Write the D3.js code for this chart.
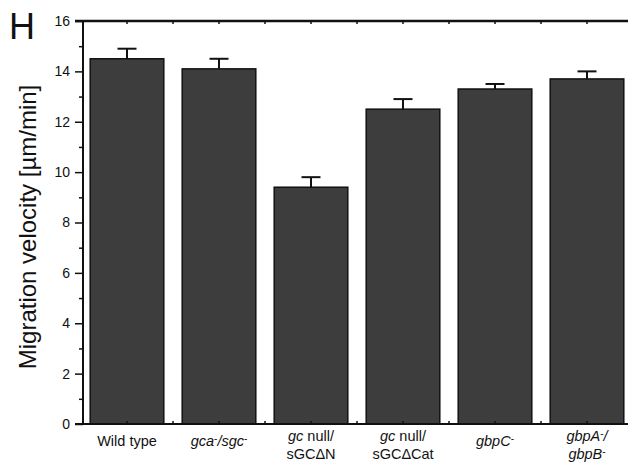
<!DOCTYPE html>
<html>
<head>
<meta charset="utf-8">
<title>Migration velocity</title>
<script src="https://cdn.jsdelivr.net/npm/d3@7"></script>
<style>
  body { margin: 0; background: #fff; }
  svg { display: block; font-family: Arial, "Liberation Sans", sans-serif; }
</style>
</head>
<body>
<div id="chart"></div>
<script>
// data
var categories = ["wt", "gca_sgc", "dN", "dCat", "gbpC", "gbpAB"];
var velocity   = [14.5, 14.1, 9.4, 12.5, 13.3, 13.7];
var errUp      = [0.4, 0.4, 0.4, 0.4, 0.2, 0.3];
var yTicks     = [0, 2, 4, 6, 8, 10, 12, 14, 16];
var yMinor     = [1, 3, 5, 7, 9, 11, 13, 15];
// label lines, each a list of [text, kind]  (i = italic, s = superscript)
var labels = [
  [[["Wild type", ""]]],
  [[["gca", "i"], ["-", "s"], ["/sgc", "i"], ["-", "s"]]],
  [[["gc", "i"], [" null/", ""]], [["sGC\u0394N", ""]]],
  [[["gc", "i"], [" null/", ""]], [["sGC\u0394Cat", ""]]],
  [[["gbpC", "i"], ["-", "s"]]],
  [[["gbpA", "i"], ["-", "s"], ["/", "i"]], [["gbpB", "i"], ["-", "s"]]]
];

var W = 628, H = 464;
// plot frame (window.top is read-only, so no "top" here)
var pLeft = 83, pTop = 21, pBottom = 424, pRight = 633;

var svg = d3.select("#chart").append("svg")
    .attr("width", W).attr("height", H);

var x = d3.scaleBand()
    .domain(categories)
    .range([81, pRight])
    .paddingInner(0.2)
    .paddingOuter(0.1);

var y = d3.scaleLinear().domain([0, 16]).range([pBottom, pTop]);

// bars
svg.selectAll("rect.bar")
    .data(categories)
    .enter().append("rect")
    .attr("class", "bar")
    .attr("x", function(d) { return x(d); })
    .attr("y", function(d, i) { return y(velocity[i]); })
    .attr("width", x.bandwidth())
    .attr("height", function(d, i) { return y(0) - y(velocity[i]); })
    .attr("fill", "#3d3d3d")
    .attr("stroke", "#111")
    .attr("stroke-width", 1.5);

// error bars (upper only)
var eb = svg.selectAll("g.err")
    .data(categories)
    .enter().append("g")
    .attr("class", "err")
    .attr("stroke", "#111")
    .attr("stroke-width", 2);
eb.append("line")
    .attr("x1", function(d) { return x(d) + x.bandwidth() / 2; })
    .attr("x2", function(d) { return x(d) + x.bandwidth() / 2; })
    .attr("y1", function(d, i) { return y(velocity[i]); })
    .attr("y2", function(d, i) { return y(velocity[i] + errUp[i]); });
eb.append("line")
    .attr("x1", function(d) { return x(d) + x.bandwidth() / 2 - 9.5; })
    .attr("x2", function(d) { return x(d) + x.bandwidth() / 2 + 9.5; })
    .attr("y1", function(d, i) { return y(velocity[i] + errUp[i]); })
    .attr("y2", function(d, i) { return y(velocity[i] + errUp[i]); });

// y axis
var yAxis = svg.append("g")
    .attr("transform", "translate(" + pLeft + ",0)")
    .call(d3.axisLeft(y).tickValues(yTicks).tickSize(8).tickPadding(5));
svg.append("g")
    .attr("transform", "translate(" + pLeft + ",0)")
    .call(d3.axisLeft(y).tickValues(yMinor).tickSize(4).tickFormat(""))
    .select(".domain").remove();
svg.selectAll(".tick line").attr("stroke", "#111").attr("stroke-width", 1.5);
yAxis.select(".domain").remove();
yAxis.selectAll("text")
    .attr("font-size", 14)
    .attr("font-family", "Arial, 'Liberation Sans', sans-serif")
    .attr("fill", "#111");

// frame
svg.append("line").attr("x1", pLeft).attr("x2", pLeft).attr("y1", pTop).attr("y2", pBottom)
    .attr("stroke", "#111").attr("stroke-width", 2);
svg.append("line").attr("x1", 75).attr("x2", pRight).attr("y1", pBottom).attr("y2", pBottom)
    .attr("stroke", "#111").attr("stroke-width", 2);
svg.append("line").attr("x1", 75).attr("x2", pRight).attr("y1", pTop).attr("y2", pTop)
    .attr("stroke", "#111").attr("stroke-width", 2.5);

// small inner ticks on top and bottom at band centres and boundaries
var gap = (x.step() - x.bandwidth()) / 2;
var xt = [];
categories.forEach(function(c) {
  xt.push(x(c) - gap);
  xt.push(x(c) + x.bandwidth() / 2);
});
xt.shift();
svg.selectAll("line.tt").data(xt).enter().append("line")
    .attr("class", "tt")
    .attr("x1", function(d) { return d; }).attr("x2", function(d) { return d; })
    .attr("y1", pTop).attr("y2", pTop + 3)
    .attr("stroke", "#111").attr("stroke-width", 1.5);
svg.selectAll("line.bt").data(xt).enter().append("line")
    .attr("class", "bt")
    .attr("x1", function(d) { return d; }).attr("x2", function(d) { return d; })
    .attr("y1", pBottom).attr("y2", pBottom - 3)
    .attr("stroke", "#111").attr("stroke-width", 1.5);

// category labels
categories.forEach(function(c, i) {
  var lines = labels[i];
  var cx = x(c) + x.bandwidth() / 2;
  var t = svg.append("text")
      .attr("x", cx)
      .attr("y", lines.length == 1 ? 446 : 441)
      .attr("text-anchor", "middle")
      .attr("font-size", 14.5)
      .attr("fill", "#111");
  lines.forEach(function(line, li) {
    var row = t.append("tspan").attr("x", cx).attr("dy", li == 0 ? 0 : 17.5);
    line.forEach(function(seg) {
      var s = row.append("tspan").text(seg[0]);
      if (seg[1] == "i") s.attr("font-style", "italic");
      if (seg[1] == "s") s.attr("font-size", 10).attr("baseline-shift", "40%");
    });
  });
});

// y axis title
svg.append("text")
    .attr("transform", "translate(36," + 227 + ") rotate(-90)")
    .attr("text-anchor", "middle")
    .attr("font-size", 24)
    .attr("fill", "#111")
    .text("Migration velocity [\u00b5m/min]");

// panel letter
svg.append("text")
    .attr("x", 9).attr("y", 39)
    .attr("font-size", 36)
    .attr("fill", "#111")
    .text("H");
</script>
</body>
</html>
